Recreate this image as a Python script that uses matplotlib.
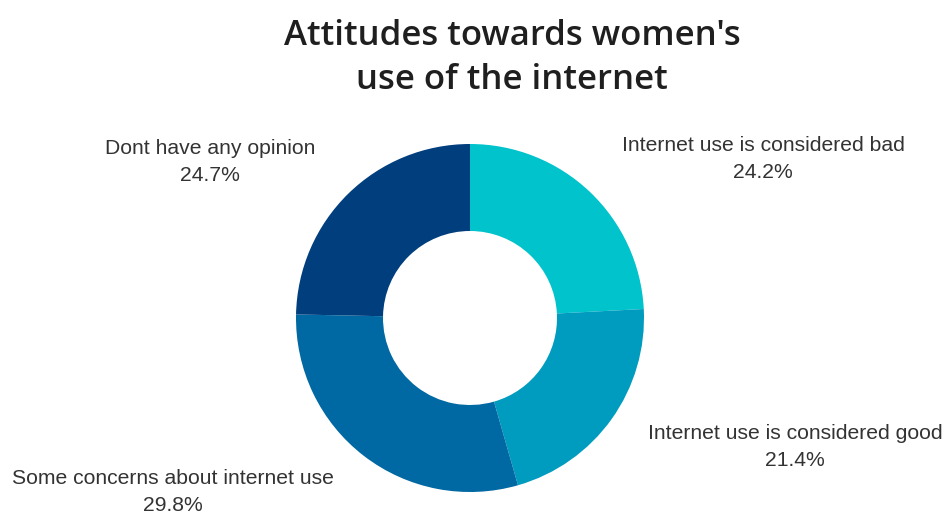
import matplotlib
matplotlib.use("Agg")
import matplotlib.pyplot as plt

categories = [
    "Internet use is considered bad",
    "Internet use is considered good",
    "Some concerns about internet use",
    "Dont have any opinion",
]
values = [24.2, 21.4, 29.8, 24.7]
colors = ["#00C3CB", "#009CC0", "#0068A2", "#003E7E"]

W, H = 948, 513
fig = plt.figure(figsize=(W / 100, H / 100), dpi=100)
ax = fig.add_axes([0, 0, 1, 1])

cx, cy, r = 470, H - 318, 174
ax.pie(values, colors=colors, startangle=90, counterclock=False,
       center=(cx, cy), radius=r, frame=True,
       wedgeprops=dict(width=r * 0.5, linewidth=0))
ax.set_xlim(0, W)
ax.set_ylim(0, H)
ax.set_aspect("equal")
ax.axis("off")

# label anchor points (pixel coordinates from top)
label_pos = {
    "Internet use is considered bad": (763, 159),
    "Internet use is considered good": (795, 447),
    "Some concerns about internet use": (173, 492),
    "Dont have any opinion": (210, 162),
}
for cat, val in zip(categories, values):
    x, y = label_pos[cat]
    ax.text(x, H - y, f"{cat}\n{val:.1f}%", ha="center", va="center",
            fontsize=15.2, family="Liberation Sans", color="#333333",
            linespacing=1.5)

ax.text(512, H - 58, "Attitudes towards women's\nuse of the internet",
        ha="center", va="center", fontsize=25, family="Open Sans",
        fontweight="semibold", color="#1f1f1f", linespacing=1.4)

fig.savefig("out.png", dpi=100, facecolor="white")
